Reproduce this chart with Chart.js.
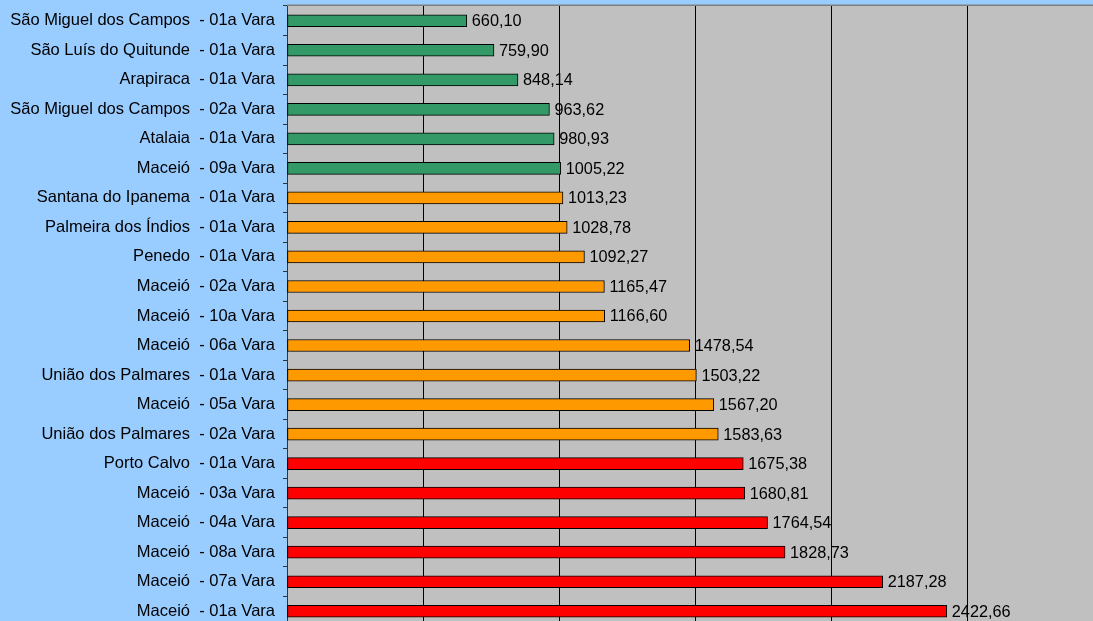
<!DOCTYPE html>
<html>
<head>
<meta charset="utf-8">
<script src="https://cdn.jsdelivr.net/npm/chart.js@4/dist/chart.umd.min.js"></script>
<style>
  html, body { margin: 0; padding: 0; overflow: hidden; background: #99CCFF; }
  #grafico { position: absolute; left: 0; top: 0; }
</style>
</head>
<body>
<canvas id="grafico" width="1110" height="630"></canvas>
<script>
// categorias (de cima para baixo)
var varas = [
  "São Miguel dos Campos  - 01a Vara",
  "São Luís do Quitunde  - 01a Vara",
  "Arapiraca  - 01a Vara",
  "São Miguel dos Campos  - 02a Vara",
  "Atalaia  - 01a Vara",
  "Maceió  - 09a Vara",
  "Santana do Ipanema  - 01a Vara",
  "Palmeira dos Índios  - 01a Vara",
  "Penedo  - 01a Vara",
  "Maceió  - 02a Vara",
  "Maceió  - 10a Vara",
  "Maceió  - 06a Vara",
  "União dos Palmares  - 01a Vara",
  "Maceió  - 05a Vara",
  "União dos Palmares  - 02a Vara",
  "Porto Calvo  - 01a Vara",
  "Maceió  - 03a Vara",
  "Maceió  - 04a Vara",
  "Maceió  - 08a Vara",
  "Maceió  - 07a Vara",
  "Maceió  - 01a Vara"
];

var valores = [
  660.10, 759.90, 848.14, 963.62, 980.93, 1005.22,
  1013.23, 1028.78, 1092.27, 1165.47, 1166.60, 1478.54,
  1503.22, 1567.20, 1583.63,
  1675.38, 1680.81, 1764.54, 1828.73, 2187.28, 2422.66
];

// faixas de cor
var limiteVerde = 1010;
var limiteLaranja = 1600;

function corDaBarra(v) {
  if (v < limiteVerde) return "#339966";
  if (v < limiteLaranja) return "#FF9900";
  return "#FF0000";
}

Chart.defaults.font.family = "'Liberation Sans', Arial, sans-serif";
Chart.defaults.font.size = 16;
Chart.defaults.color = "#000";

// fundo cinza da area de plotagem
var fundoPlot = {
  id: "fundoPlot",
  beforeDraw: function (chart) {
    var ctx = chart.ctx, a = chart.chartArea;
    ctx.save();
    ctx.fillStyle = "#C0C0C0";
    ctx.fillRect(a.left, a.top - 1, a.right - a.left, a.bottom - a.top + 1);
    ctx.strokeStyle = "#808080";
    ctx.lineWidth = 1.5;
    ctx.beginPath();
    ctx.moveTo(a.left, a.top - 0.75);
    ctx.lineTo(a.right, a.top - 0.75);
    ctx.stroke();
    ctx.restore();
  }
};

// rotulos de valor ao lado das barras
var rotulos = {
  id: "rotulos",
  afterDatasetsDraw: function (chart) {
    var ctx = chart.ctx;
    var meta = chart.getDatasetMeta(0);
    ctx.save();
    ctx.font = "16.3px 'Liberation Sans', Arial, sans-serif";
    ctx.fillStyle = "#000";
    ctx.textAlign = "left";
    ctx.textBaseline = "middle";
    meta.data.forEach(function (bar, i) {
      var txt = valores[i].toFixed(2).replace(".", ",");
      ctx.fillText(txt, bar.x + 5, bar.y + 1);
    });
    ctx.restore();
  }
};

new Chart(document.getElementById("grafico"), {
  type: "bar",
  data: {
    labels: varas,
    datasets: [{
      data: valores,
      backgroundColor: valores.map(corDaBarra),
      borderColor: "#000",
      borderWidth: 1,
      borderSkipped: false,
      barThickness: 12
    }]
  },
  options: {
    indexAxis: "y",
    responsive: false,
    animation: false,
    layout: { padding: { top: 6, right: 6, left: 0, bottom: 4 } },
    plugins: {
      legend: { display: false },
      tooltip: { enabled: false }
    },
    scales: {
      x: {
        min: 0,
        max: 3000,
        ticks: { display: false, stepSize: 500 },
        grid: { color: "#000", lineWidth: 1, drawTicks: false },
        border: { display: false }
      },
      y: {
        afterFit: function (scale) {
          scale.width = 287;
          scale.paddingTop = 0;
          scale.paddingBottom = 0;
        },
        ticks: { padding: 8, font: { size: 16.5 }, color: "#000", autoSkip: false },
        grid: { drawOnChartArea: false, drawTicks: true, tickLength: 4, color: "#333" },
        border: { display: true, color: "#333", width: 1 }
      }
    }
  },
  plugins: [fundoPlot, rotulos]
});
</script>
</body>
</html>
